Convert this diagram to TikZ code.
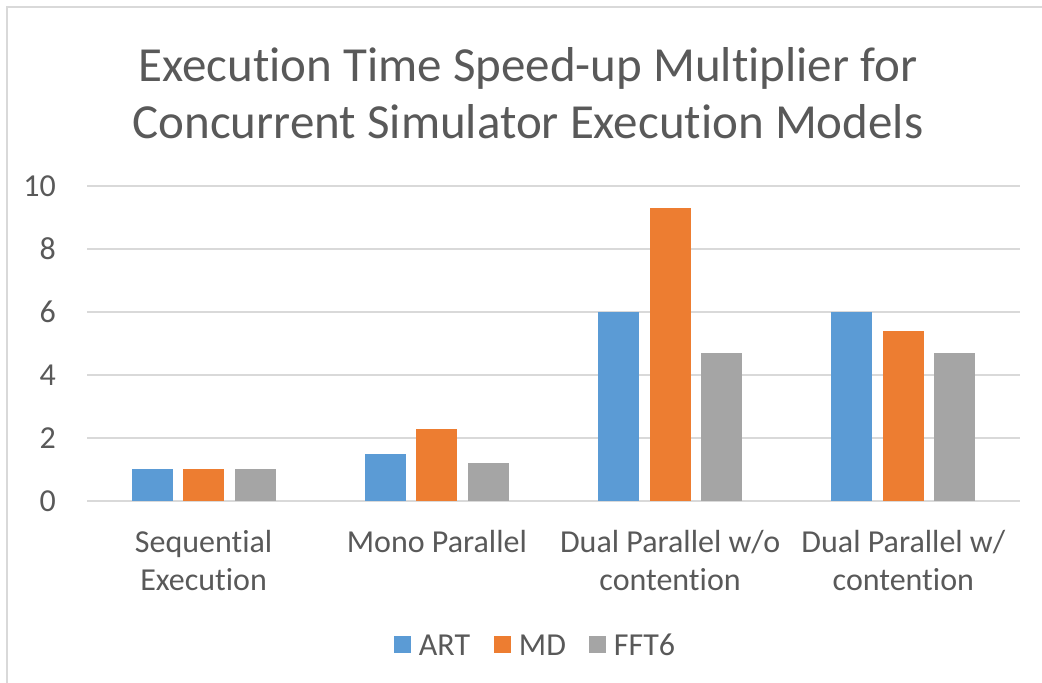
\documentclass[tikz,border=0pt]{standalone}
\usepackage{fontspec}
\setmainfont{Carlito}[Ligatures=NoCommon]
\usetikzlibrary{positioning}
\definecolor{artblue}{HTML}{5B9BD5}
\definecolor{mdorange}{HTML}{ED7D31}
\definecolor{fftgray}{HTML}{A5A5A5}
\definecolor{txtgray}{HTML}{595959}
\definecolor{gridgray}{HTML}{D9D9D9}

\begin{document}
\begin{tikzpicture}[x=1pt, y=1pt,
	axislabel/.style={font=\fontsize{32}{38}\selectfont, text=txtgray, inner sep=0pt},
	catlabel/.style={axislabel, align=center, anchor=north},
	legsq/.style={minimum size=17pt, inner sep=0pt},
	legtext/.style={axislabel, anchor=west}]
	\useasboundingbox (0,0) rectangle (1042,683);
	\draw[gridgray, line width=1.5pt] (7,0) -- (7,676) -- (1042,676);
	
	\node[font=\fontsize{49}{57}\selectfont, text=txtgray, align=center, inner sep=0pt] (title) at (528, 590)
		{Execution Time Speed-up Multiplier for\\Concurrent Simulator Execution Models};
	
	\foreach \v in {0,2,...,10} {
		\draw[gridgray, line width=1.3pt] (87, 182+31.5*\v) -- (1020, 182+31.5*\v);
		\node[axislabel, anchor=east] (tick\v) at (56, 182+31.5*\v) {\v};
	}
	
	\foreach \g/\a/\m/\f/\lbl in {0/1/1/1/{Sequential\\Execution}, 1/1.5/2.3/1.2/{Mono Parallel}, 2/6/9.3/4.7/{Dual Parallel w/o\\contention}, 3/6/5.4/4.7/{Dual Parallel w/\\contention}} {
		\pgfmathsetmacro{\c}{203.6+233.25*\g}
		\fill[artblue] (\c-72, 182) rectangle (\c-31, 182+31.5*\a);
		\fill[mdorange] (\c-20.5, 182) rectangle (\c+20.5, 182+31.5*\m);
		\fill[fftgray] (\c+31, 182) rectangle (\c+72, 182+31.5*\f);
		\node[catlabel] (cat\g) at (\c, 153) {\lbl};
	}
	
	\node[legsq, fill=artblue] (sqart) at (402, 38) {};
	\node[legtext, right=8pt of sqart] (lgart) {ART};
	\node[legsq, fill=mdorange] (sqmd) at (502, 38) {};
	\node[legtext, right=8pt of sqmd] (lgmd) {MD};
	\node[legsq, fill=fftgray] (sqfft) at (597, 38) {};
	\node[legtext, right=8pt of sqfft] (lgfft) {FFT6};
\end{tikzpicture}
\end{document}
